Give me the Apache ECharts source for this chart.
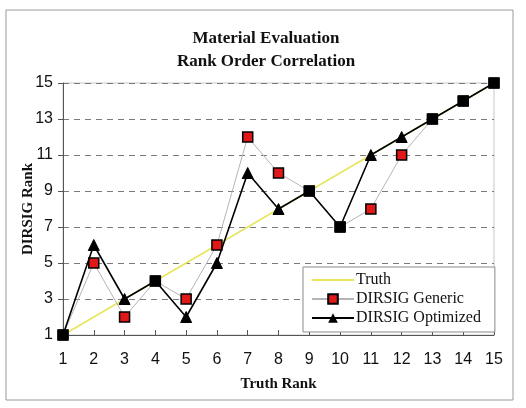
<!DOCTYPE html>
<html>
<head>
<meta charset="utf-8">
<script src="https://cdn.jsdelivr.net/npm/echarts@6/dist/echarts.min.js"></script>
<style>
  html, body { margin: 0; padding: 0; background: #fff; }
  #chart { width: 526px; height: 408px; }
</style>
</head>
<body>
<div id="chart"></div>
<script>
// truth rank on x, DIRSIG rank on y
var truthRank = [1, 2, 3, 4, 5, 6, 7, 8, 9, 10, 11, 12, 13, 14, 15];
var truthLine = [1, 2, 3, 4, 5, 6, 7, 8, 9, 10, 11, 12, 13, 14, 15];
var genericRank = [1, 5, 2, 4, 3, 6, 12, 10, 9, 7, 8, 11, 13, 14, 15];
var optimizedRank = [1, 6, 3, 4, 2, 5, 10, 8, 9, 7, 11, 12, 13, 14, 15];

var serif = '"Liberation Serif", "Times New Roman", serif';
var sans = '"Liberation Sans", Arial, sans-serif';

function pairs(ys) {
    return truthRank.map(function (x, i) { return [x, ys[i]]; });
}

// where both DIRSIG series land on the same rank the marker shows as a black square
var genericData = truthRank.map(function (x, i) {
    var same = genericRank[i] === optimizedRank[i];
    return {
        value: [x, genericRank[i]],
        itemStyle: same ? { color: '#000', borderColor: '#000' } : undefined
    };
});
var optimizedData = truthRank.map(function (x, i) {
    var same = genericRank[i] === optimizedRank[i];
    return same
        ? { value: [x, optimizedRank[i]], symbol: 'rect', symbolSize: 10 }
        : { value: [x, optimizedRank[i]] };
});

var chart = echarts.init(document.getElementById('chart'));
var option = {
    animation: false,
    backgroundColor: '#fff',
    graphic: [{
        type: 'rect',
        shape: { x: 6, y: 10, width: 507, height: 390 },
        style: { fill: 'none', stroke: '#9a9a9a', lineWidth: 1 },
        silent: true
    }],
    title: {
        text: 'Material Evaluation\nRank Order Correlation',
        left: 261,
        top: 22,
        textAlign: 'center',
        textStyle: {
            fontFamily: serif,
            fontSize: 17,
            fontWeight: 'bold',
            color: '#111',
            lineHeight: 23
        }
    },
    legend: {
        orient: 'vertical',
        left: 303,
        top: 267,
        padding: [5, 14, 6, 8],
        itemGap: 3,
        itemWidth: 42,
        itemHeight: 12,
        backgroundColor: '#fff',
        borderColor: '#8a8a8a',
        borderWidth: 1,
        borderRadius: 0,
        textStyle: { fontFamily: serif, fontSize: 16, color: '#111', padding: [0, 0, 0, -3] },
        data: [
            { name: 'Truth', itemStyle: { opacity: 0 } },
            'DIRSIG Generic',
            'DIRSIG Optimized'
        ]
    },
    grid: { left: 63, right: 32, top: 83, bottom: 73, show: true, borderColor: '#c8c8c8', borderWidth: 1 },
    xAxis: {
        type: 'value',
        min: 1,
        max: 15,
        interval: 1,
        name: 'Truth Rank',
        nameLocation: 'middle',
        nameGap: 42,
        nameTextStyle: { fontFamily: serif, fontSize: 15, fontWeight: 'bold', color: '#111' },
        axisLine: { lineStyle: { color: '#555', width: 1 } },
        axisTick: { inside: true, length: 5, lineStyle: { color: '#555' } },
        axisLabel: { fontFamily: sans, fontSize: 16, color: '#111', margin: 17 },
        splitLine: { show: false }
    },
    yAxis: {
        type: 'value',
        min: 1,
        max: 15,
        interval: 2,
        name: 'DIRSIG Rank',
        nameLocation: 'middle',
        nameMoveOverlap: false,
        nameGap: 27,
        nameTextStyle: { fontFamily: serif, fontSize: 15, fontWeight: 'bold', color: '#111' },
        axisLine: { show: true, lineStyle: { color: '#555', width: 1 } },
        axisTick: { show: true, length: 5, lineStyle: { color: '#555' } },
        axisLabel: { fontFamily: sans, fontSize: 16, color: '#111', margin: 10 },
        splitLine: { show: true, lineStyle: { color: '#7a7a7a', type: [6, 5], width: 1 } }
    },
    series: [{
        name: 'Truth',
        type: 'line',
        data: pairs(truthLine),
        symbol: 'none',
        z: 1,
        lineStyle: { color: '#e6e65a', width: 1.5 },
        itemStyle: { color: '#e6e65a' }
    }, {
        name: 'DIRSIG Generic',
        type: 'line',
        data: genericData,
        symbol: 'rect',
        symbolSize: 10,
        z: 2,
        lineStyle: { color: '#b4b4b4', width: 1 },
        itemStyle: { color: '#e01818', borderColor: '#000', borderWidth: 1.5 }
    }, {
        name: 'DIRSIG Optimized',
        type: 'line',
        data: optimizedData,
        symbol: 'triangle',
        symbolSize: 11,
        z: 3,
        lineStyle: { color: '#000', width: 1.6 },
        itemStyle: { color: '#000', borderColor: '#000' }
    }]
};
chart.setOption(option);
</script>
</body>
</html>
